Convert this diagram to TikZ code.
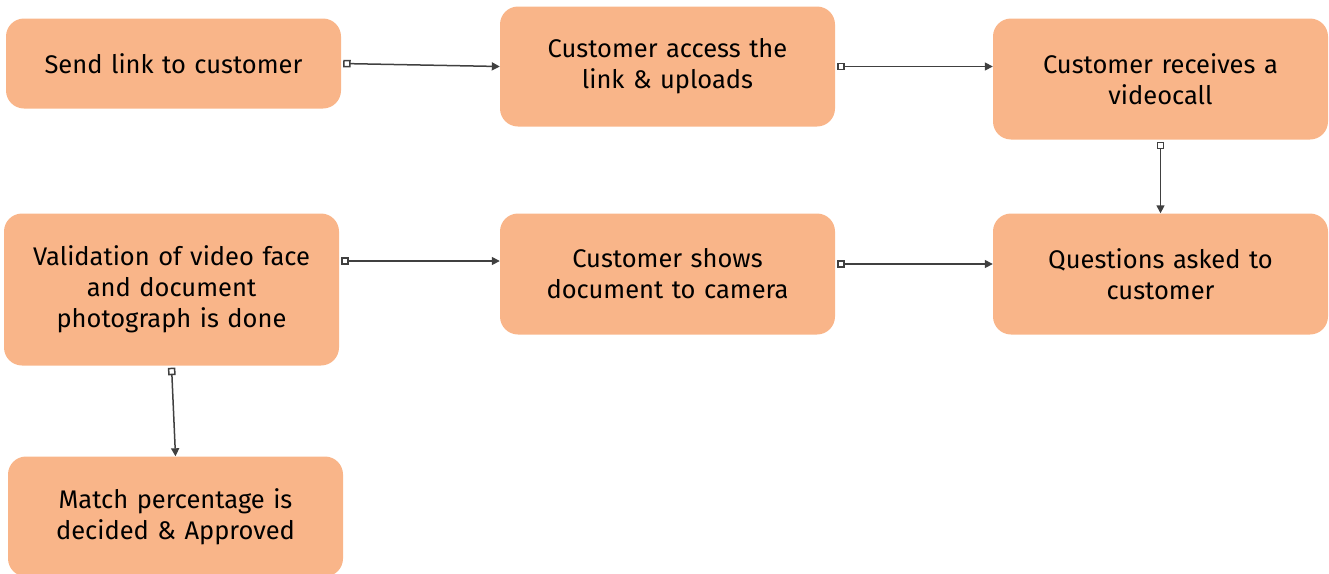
\documentclass[tikz,border=0pt]{standalone}
\usepackage{fontspec}
\setmainfont{Fira Sans}
\usepackage{tikz}
\usetikzlibrary{arrows.meta}
\definecolor{peach}{RGB}{249,181,137}
\definecolor{linegray}{RGB}{64,64,64}

\begin{document}
\begin{tikzpicture}
        [%%%%%%%%%%%%%%%%%%%%%%%%%%%%%%
        x=1pt, y=-1pt,
        stage/.style={rectangle, rounded corners=18pt, fill=peach, draw=none,
          minimum width=335pt, text width=320pt, align=center, inner sep=0pt,
          font=\fontsize{25.5}{31}\selectfont},
        link/.style={draw=linegray, line width=1.5pt,
          {Square[open,length=7.5pt,width=7.5pt]}-{Triangle[length=8pt,width=8pt]},
          shorten <=2pt},
        ]%%%%%%%%%%%%%%%%%%%%%%%%%%%%%%
        \useasboundingbox (0,0) rectangle (1329,573);
        % Top row
        \node[stage, minimum height=90pt]  (send)    at (173.5,63.5)   {Send link to customer};
        \node[stage, minimum height=120pt] (access)  at (667.5,66.5)   {Customer access the\\link \& uploads};
        \node[stage, minimum height=121pt] (receive) at (1160.5,79) {Customer receives a\\videocall};
        % Middle row
        \node[stage, minimum height=152pt] (valid)   at (171.5,289.5)  {Validation of video face\\and document\\photograph is done};
        \node[stage, minimum height=121pt] (shows)   at (667.5,274) {Customer shows\\document to camera};
        \node[stage, minimum height=121pt] (ask)     at (1160.5,274) {Questions asked to\\customer};
        % Bottom
        \node[stage, minimum height=120pt] (match)   at (175.5,516.5)  {Match percentage is\\decided \& Approved};
        % Arrows
        \draw[link] (send.east) -- (access.west);
        \draw[link] (access.east) -- (access.east -| receive.west);
        \draw[link] (receive.south) -- (ask.north);
        \draw[link] ([yshift=10pt]shows.east) -- ([yshift=10pt]shows.east -| ask.west);
        \draw[link] ([yshift=28.5pt]valid.east) -- ([yshift=28.5pt]valid.east -| shows.west);
        \draw[link] (valid.south) -- (match.north);
\end{tikzpicture}
\end{document}
